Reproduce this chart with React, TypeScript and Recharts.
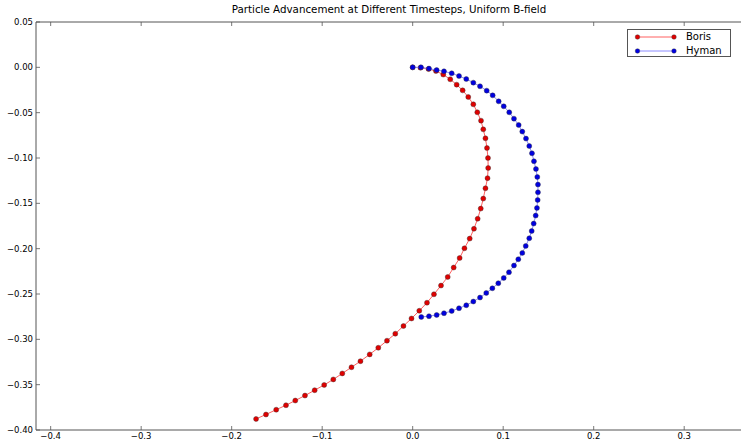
import { ScatterChart, Scatter, XAxis, YAxis } from 'recharts';

// Particle positions for each pusher (x, y), one entry per timestep
const borisX = [
  0, 0.0086, 0.0175, 0.0257, 0.0338, 0.0415, 0.0486, 0.0552, 0.0614, 0.067,
  0.0714, 0.0755, 0.078, 0.0804, 0.0821, 0.0832, 0.0834, 0.0827, 0.0804, 0.078,
  0.0752, 0.0718, 0.0677, 0.063, 0.0572, 0.0519, 0.0453, 0.0387, 0.0313, 0.0235,
  0.0158, 0.0073, -0.0013, -0.0102, -0.0192, -0.0284, -0.038, -0.0475, -0.0577, -0.0676,
  -0.0778, -0.0877, -0.0978, -0.1083, -0.119, -0.1297, -0.14, -0.1508, -0.1621, -0.1731,
];
const borisY = [
  0, -0.0004, -0.0019, -0.0041, -0.008, -0.0132, -0.0191, -0.0254, -0.0327, -0.0408,
  -0.0496, -0.0588, -0.0684, -0.0783, -0.089, -0.1, -0.111, -0.1222, -0.1334, -0.1448,
  -0.1558, -0.167, -0.1781, -0.1889, -0.1996, -0.2103, -0.2208, -0.2312, -0.2407, -0.2503,
  -0.2596, -0.2685, -0.277, -0.2853, -0.2938, -0.3015, -0.3093, -0.3166, -0.3241, -0.3308,
  -0.3376, -0.3442, -0.3503, -0.3561, -0.362, -0.3675, -0.3727, -0.3776, -0.3829, -0.3878,
];
const hymanX = [
  0, 0.0092, 0.018, 0.0265, 0.0346, 0.0431, 0.0512, 0.0592, 0.067, 0.0744,
  0.0818, 0.0884, 0.095, 0.1006, 0.1067, 0.1119, 0.1171, 0.1211, 0.1252, 0.1288,
  0.1318, 0.134, 0.1362, 0.1377, 0.1384, 0.1384, 0.1381, 0.1373, 0.1359, 0.1337,
  0.1315, 0.1288, 0.1249, 0.1211, 0.1167, 0.1119, 0.1064, 0.1006, 0.0946, 0.088,
  0.0813, 0.0744, 0.067, 0.0592, 0.0512, 0.0431, 0.0346, 0.0265, 0.018, 0.0095,
];
const hymanY = [
  0, 0, -0.0014, -0.003, -0.0044, -0.0066, -0.0096, -0.0129, -0.0169, -0.0209,
  -0.0257, -0.0309, -0.0375, -0.043, -0.0496, -0.0566, -0.0636, -0.0709, -0.0786, -0.0868,
  -0.0948, -0.1036, -0.1121, -0.1209, -0.1293, -0.1378, -0.1463, -0.1551, -0.1635, -0.1723,
  -0.1805, -0.1885, -0.197, -0.2047, -0.2117, -0.2186, -0.226, -0.2323, -0.2381, -0.2437,
  -0.2488, -0.2539, -0.2583, -0.2624, -0.2657, -0.2687, -0.2712, -0.2731, -0.2745, -0.2753,
];

const xTicks = [-0.4, -0.3, -0.2, -0.1, 0.0, 0.1, 0.2, 0.3];
const yTicks = [0.05, 0.0, -0.05, -0.1, -0.15, -0.2, -0.25, -0.3, -0.35, -0.4];

const borisData = borisX.map((x, i) => ({ x, y: borisY[i] }));
const hymanData = hymanX.map((x, i) => ({ x, y: hymanY[i] }));

const FONT = '"DejaVu Sans", sans-serif';
const AXIS = '#555';
const TICK_LEN = 4;
const X_DOMAIN: [number, number] = [-0.4162, 0.3705];
const Y_DOMAIN: [number, number] = [-0.4, 0.05];

const fmt = (v: number, digits: number) => {
  const s = Math.abs(v).toFixed(digits);
  return v < -1e-9 ? '\u2212' + s : s;
};

// matplotlib-style ticks: short marks pointing into the plot
const BottomTick = (props: any) => {
  const { x, y, payload } = props;
  return (
    <g>
      <line x1={x} y1={y} x2={x} y2={y - TICK_LEN} stroke={AXIS} strokeWidth={0.8} />
      <text x={x} y={y + 9} textAnchor="middle" fontSize={8.5} fontFamily={FONT} fill="#000">
        {fmt(payload.value, 1)}
      </text>
    </g>
  );
};

const TopTick = (props: any) => {
  const { x, y } = props;
  return <line x1={x} y1={y} x2={x} y2={y + TICK_LEN} stroke={AXIS} strokeWidth={0.8} />;
};

const LeftTick = (props: any) => {
  const { x, y, payload } = props;
  return (
    <g>
      <line x1={x} y1={y} x2={x + TICK_LEN} y2={y} stroke={AXIS} strokeWidth={0.8} />
      <text x={x - 3} y={y + 3} textAnchor="end" fontSize={8.5} fontFamily={FONT} fill="#000">
        {fmt(payload.value, 2)}
      </text>
    </g>
  );
};

const RightTick = (props: any) => {
  const { x, y } = props;
  return <line x1={x} y1={y} x2={x - TICK_LEN} y2={y} stroke={AXIS} strokeWidth={0.8} />;
};

const dot = (fill: string) => (props: any) => (
  <circle cx={props.cx} cy={props.cy} r={2.5} fill={fill} stroke="#333" strokeWidth={0.4} />
);

const legendRows = [
  { name: 'Boris', dot: '#e00000', line: '#ff6060' },
  { name: 'Hyman', dot: '#0000e0', line: '#8c8cff' },
];

// legend box in the upper right corner of the axes
const LegendBox = () => (
  <div
    style={{
      position: 'absolute',
      left: 627,
      top: 29,
      width: 104,
      height: 28,
      border: '1px solid #555',
      background: '#fff',
      fontFamily: FONT,
      fontSize: 10,
      boxSizing: 'border-box',
    }}
  >
    {legendRows.map((r, i) => (
      <div key={r.name} style={{ position: 'absolute', top: 0.5 + i * 14.3, left: 0, height: 12, width: 102 }}>
        <svg width={50} height={12} style={{ position: 'absolute', left: 0, top: 0 }}>
          <line x1={9.5} y1={6} x2={46} y2={6} stroke={r.line} strokeWidth={1} />
          <circle cx={9.5} cy={6} r={2.3} fill={r.dot} stroke="#333" strokeWidth={0.4} />
          <circle cx={46} cy={6} r={2.3} fill={r.dot} stroke="#333" strokeWidth={0.4} />
        </svg>
        <span style={{ position: 'absolute', left: 58, top: 0, lineHeight: '12px' }}>{r.name}</span>
      </div>
    ))}
  </div>
);

export default function App() {
  return (
    <div style={{ position: 'absolute', left: 0, top: 0, width: 741, height: 441, overflow: 'hidden', background: '#fff' }}>
      <div
        style={{
          position: 'absolute',
          top: 3,
          left: 0,
          width: 778,
          textAlign: 'center',
          fontFamily: FONT,
          fontSize: 10.3,
          color: '#000',
        }}
      >
        Particle Advancement at Different Timesteps, Uniform B-field
      </div>
      <ScatterChart width={760} height={441} margin={{ top: 0, right: 0, bottom: 0, left: 0 }}>
        <XAxis
          xAxisId="bottom"
          type="number"
          dataKey="x"
          domain={X_DOMAIN}
          allowDataOverflow
          ticks={xTicks}
          height={11}
          tickSize={0}
          tickMargin={0}
          tickLine={false}
          axisLine={{ stroke: AXIS }}
          tick={<BottomTick />}
        />
        <XAxis
          xAxisId="top"
          orientation="top"
          type="number"
          dataKey="x"
          domain={X_DOMAIN}
          allowDataOverflow
          ticks={xTicks}
          height={22}
          tickSize={0}
          tickMargin={0}
          tickLine={false}
          axisLine={{ stroke: AXIS }}
          tick={<TopTick />}
        />
        <YAxis
          yAxisId="left"
          type="number"
          dataKey="y"
          domain={Y_DOMAIN}
          allowDataOverflow
          ticks={yTicks}
          width={36}
          tickSize={0}
          tickMargin={0}
          tickLine={false}
          axisLine={{ stroke: AXIS }}
          tick={<LeftTick />}
        />
        <YAxis
          yAxisId="right"
          orientation="right"
          type="number"
          dataKey="y"
          domain={Y_DOMAIN}
          allowDataOverflow
          ticks={yTicks}
          width={12}
          tickSize={0}
          tickMargin={0}
          tickLine={false}
          axisLine={{ stroke: AXIS }}
          tick={<RightTick />}
        />
        <Scatter
          name="Boris"
          data={borisData}
          xAxisId="bottom"
          yAxisId="left"
          line={{ stroke: '#ff6060', strokeWidth: 1 }}
          shape={dot('#e00000')}
          isAnimationActive={false}
        />
        <Scatter
          name="Hyman"
          data={hymanData}
          xAxisId="bottom"
          yAxisId="left"
          line={{ stroke: '#8c8cff', strokeWidth: 1 }}
          shape={dot('#0000e0')}
          isAnimationActive={false}
        />
      </ScatterChart>
      <LegendBox />
    </div>
  );
}
